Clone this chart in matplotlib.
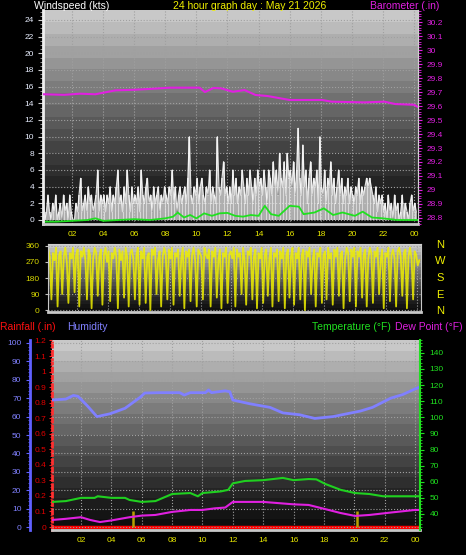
import numpy as np
import matplotlib
matplotlib.use('Agg')
import matplotlib.pyplot as plt
from matplotlib.ticker import MultipleLocator

plt.rcParams['font.family'] = ['Liberation Sans', 'DejaVu Sans']

# ---- data ----
hour_ticks = [2, 4, 6, 8, 10, 12, 14, 16, 18, 20, 22, 24]
hour_labels = ['02', '04', '06', '08', '10', '12', '14', '16', '18', '20', '22', '00']

# wind speed (kts), one sample every 6 minutes from 00:09
wind = [
    2, 0, 1, 3, 1, 0, 2, 1, 3, 0, 1, 2, 0, 3, 1, 2, 0, 3, 1, 0,
    0, 2, 1, 3, 5, 1, 2, 3, 1, 4, 2, 3, 1, 2, 3, 6, 1, 3, 2, 3,
    1, 3, 2, 4, 1, 3, 2, 4, 6, 2, 3, 1, 4, 2, 6, 3, 1, 4, 2, 3,
    2, 4, 1, 6, 3, 2, 4, 5, 2, 3, 1, 4, 2, 3, 4, 1, 3, 2, 4, 3,
    2, 4, 3, 6, 2, 4, 1, 3, 4, 2, 3, 4, 2, 5, 10, 3, 2, 4, 3, 5,
    2, 4, 5, 3, 2, 4, 3, 6, 2, 4, 3, 2, 10, 4, 3, 5, 7, 3, 4, 2,
    4, 2, 6, 3, 5, 2, 4, 3, 6, 4, 2, 5, 3, 6, 4, 2, 5, 3, 6, 4,
    5, 3, 6, 4, 2, 6, 5, 3, 7, 4, 6, 3, 8, 5, 4, 7, 3, 8, 5, 6,
    4, 7, 3, 6, 11, 5, 3, 9, 4, 6, 2, 5, 7, 3, 5, 4, 6, 2, 10, 4,
    3, 6, 2, 5, 4, 7, 3, 5, 2, 4, 6, 3, 5, 2, 4, 3, 5, 2, 4, 3,
    2, 4, 3, 5, 2, 4, 3, 4, 5, 4, 5, 4, 3, 2, 4, 1, 3, 2, 3, 1,
    2, 0, 3, 1, 2, 0, 3, 1, 2, 0, 1, 3, 0, 2, 1, 0, 2, 3, 1, 2,
    1]

# wind direction (deg), same samples
wdir = [
    340, 300, 60, 320, 280, 350, 20, 310, 330, 90, 300, 350, 270, 40, 320, 290, 350, 100, 310, 340,
    20, 330, 300, 350, 280, 60, 340, 310, 10, 290, 350, 320, 80, 300, 340, 30, 310, 350, 270, 330,
    50, 320, 290, 350, 300, 10, 340, 280, 330, 70, 350, 300, 20, 320, 340, 290, 60, 310, 350, 30,
    330, 290, 350, 40, 300, 320, 0, 340, 310, 350, 90, 280, 330, 20, 300, 350, 310, 60, 340, 290,
    350, 30, 320, 300, 340, 80, 290, 350, 10, 330, 300, 340, 50, 310, 350, 280, 20, 340, 320, 300,
    60, 350, 310, 290, 340, 20, 330, 300, 350, 70, 280, 340, 10, 320, 300, 350, 40, 310, 330, 290,
    350, 20, 340, 300, 320, 90, 350, 280, 30, 330, 310, 350, 60, 300, 340, 10, 320, 290, 350, 40,
    310, 340, 80, 290, 350, 20, 320, 300, 340, 50, 330, 290, 350, 10, 310, 340, 70, 300, 350, 30,
    320, 290, 350, 60, 310, 340, 0, 330, 300, 350, 90, 280, 340, 20, 320, 300, 350, 40, 310, 330,
    60, 350, 290, 320, 30, 340, 300, 350, 80, 310, 330, 10, 290, 350, 320, 50, 340, 300, 350, 20,
    330, 300, 350, 70, 310, 340, 20, 290, 350, 320, 40, 330, 300, 350, 90, 280, 340, 10, 320, 300,
    350, 50, 310, 340, 290, 20, 330, 350, 300, 80, 320, 340, 10, 300, 350, 290, 60, 330, 310, 250,
    280]

t_wind = 0.15 + 0.1 * np.arange(len(wind))

avg_h = [0.15, 1, 2, 3, 3.5, 4, 5, 6, 7, 8, 8.5, 8.8, 9.2, 9.6, 10, 10.5, 11, 11.5, 12,
         12.5, 13, 13.5, 14, 14.4, 14.8, 15.3, 16, 16.6, 16.9, 17.6, 18.2, 18.8, 19.4,
         20.2, 20.7, 21.3, 22, 22.9, 24.2]
avg_wind = [-0.2, -0.2, -0.1, 0, 0.2, -0.1, 0, 0.1, 0, 0.2, 0.4, 0.9, 0.3, 0.6, 0.2, 0.8,
            0.5, 0.8, 0.85, 0.5, 0.4, 0.6, 0.5, 1.7, 0.7, 0.5, 1.7, 1.6, 0.7, 0.9, 1.4,
            0.6, 0.9, 0.5, 1.0, 0.3, 0.2, 0.0, 0.0]

baro_h = [0.13, 1.5, 2.5, 3.5, 4.8, 6.0, 7.0, 8.3, 10.2, 10.55, 11.1, 11.6, 12.35, 13.1,
          13.8, 14.6, 16.0, 18.1, 18.7, 20.8, 22.1, 22.8, 24.0, 24.26]
baro = [29.684, 29.680, 29.688, 29.684, 29.712, 29.716, 29.722, 29.731, 29.731, 29.700,
        29.729, 29.726, 29.702, 29.714, 29.679, 29.671, 29.643, 29.643, 29.631, 29.626,
        29.631, 29.614, 29.609, 29.593]

hum_h = [0.1, 1.0, 1.5, 1.8, 2.4, 3.05, 3.9, 4.9, 5.9, 6.2, 7.2, 8.5, 8.8, 9.2, 10.2, 10.4,
         10.6, 11.5, 11.8, 12.0, 13.1, 14.45, 15.3, 16.4, 17.4, 18.6, 20.4, 21.2, 22.4,
         23.2, 24.0, 24.3]
humidity = [69, 69.5, 71.5, 71, 66, 60, 61.5, 64.5, 70.5, 72.8, 73, 73, 71.7, 73, 73, 74.5,
            73, 74, 73.5, 69, 67, 65, 62, 61, 59, 60, 63, 65, 70, 72, 75, 76]

temp_h = [0.1, 1.0, 2.0, 2.9, 3.1, 4.0, 4.9, 5.2, 6.0, 6.9, 8.0, 9.2, 9.7, 10.0, 11.2, 11.7,
          12.0, 12.8, 14.0, 15.3, 16.0, 17.0, 17.5, 18.1, 19.1, 20.05, 21.0, 21.9, 24.0, 24.3]
temp = [47.5, 48, 50, 50, 51, 50, 50, 48.7, 47.5, 48, 52.4, 53, 51, 53, 54, 55, 59, 60.5,
        61, 62.4, 61, 61.7, 61.5, 58.6, 55, 53, 52.4, 51, 51, 51]

dew_h = [0.1, 1.0, 2.0, 2.6, 3.25, 4.0, 5.2, 6.0, 6.9, 8.0, 9.2, 10.0, 10.8, 11.5, 12.0,
         14.0, 16.0, 17.0, 18.1, 19.1, 20.05, 21.0, 22.5, 24.0, 24.3]
dew = [36.3, 37, 38, 36.3, 35, 36, 38, 39, 39.4, 41.3, 42.5, 42.5, 43.5, 44, 47.5, 47.5, 46,
       45.6, 43, 40.6, 38.8, 39.4, 41, 42.5, 42.5]

rain_h = [0.09, 24.33]
rain_total = [0.0, 0.0]
rain_evt_h = [5.45, 20.2]
rain_evt = [0.1, 0.1]

# ---- layout ----
W, H = 466, 555
fig = plt.figure(figsize=(W / 100, H / 100), dpi=100, facecolor='black')


def rect(l, t, r, b):
    return [l / W, 1 - b / H, (r - l) / W, (b - t) / H]


def panel(box):
    bg = fig.add_axes(box, zorder=0)
    t = np.linspace(0, 1, 18)
    g = (14 + 186 * (1 - t) ** 1.2) / 255
    bg.imshow(g.reshape(-1, 1), cmap='gray', vmin=0, vmax=1, aspect='auto',
              extent=[0, 1, 0, 1], interpolation='nearest')
    bg.set_axis_off()
    ax = fig.add_axes(box, zorder=1)
    ax.set_facecolor('none')
    ax.set_xticks(hour_ticks)
    ax.grid(True, axis='x', color='#a0a0a0', ls=':', lw=0.8)
    ax.tick_params(axis='x', length=0, pad=5, labelsize=6, labelcolor='#e8e800')
    ax.spines['top'].set_visible(False)
    ax.spines['bottom'].set_color('#c8c8c8')
    ax.spines['bottom'].set_linewidth(2)
    return ax


def yellow_hours(ax):
    ax.set_xticklabels(hour_labels)


# top panel: wind speed + barometer
ax_w = panel(rect(43, 10, 418, 224))
ax_w.set_xlim(0.13, 24.26)
ax_w.set_ylim(-0.48, 25.2)
ax_w.vlines(t_wind, 0, wind, color='#e8e8e8', lw=1.4, alpha=0.75)
ax_w.plot(t_wind, wind, color='white', lw=0.9, alpha=0.85)
ax_w.plot(avg_h, avg_wind, color='#20e020', lw=1.3)
yellow_hours(ax_w)
ax_w.yaxis.set_minor_locator(MultipleLocator(0.5))
ax_w.set_yticks(range(0, 25, 2))
ax_w.grid(True, axis='y', color='#a0a0a0', ls=':', lw=0.8)
ax_w.tick_params(axis='y', which='major', length=3.5, width=0.8, color='#d0d0d0',
                 pad=3, labelsize=6, labelcolor='#e8eeff')
ax_w.tick_params(axis='y', which='minor', length=2, width=0.6, color='#b0b0b0')
ax_w.spines['left'].set_color('#f0f0f0')
ax_w.spines['left'].set_linewidth(2)
ax_w.spines['right'].set_color('#c8c8c8')

ax_b = ax_w.twinx()
ax_b.set_zorder(2)
ax_b.set_ylim(28.757, 30.286)
ax_b.plot(baro_h, baro, color='#e020e0', lw=1.5)
bt = np.round(np.arange(28.8, 30.25, 0.1), 1)
ax_b.set_yticks(bt)
ax_b.set_yticklabels([f'{v:g}' for v in bt])
ax_b.yaxis.set_minor_locator(MultipleLocator(0.02))
ax_b.tick_params(axis='y', which='major', length=3, color='#e020e0', pad=3,
                 labelsize=6, labelcolor='#e020e0')
ax_b.tick_params(axis='y', which='minor', length=2, color='#e020e0')
for s in ['left', 'top', 'bottom']:
    ax_b.spines[s].set_visible(False)
ax_b.spines['right'].set_color('#d0d0d0')

# wind direction panel
ax_d = panel(rect(48, 244, 421, 312))
ax_d.set_xlim(0.13, 24.26)
ax_d.set_ylim(-11, 371)
ax_d.plot(t_wind, wdir, color='#f0f000', lw=1.3, alpha=0.85)
ax_d.set_xticklabels([])
ax_d.set_yticks([0, 90, 180, 270, 360])
ax_d.grid(True, axis='y', color='#a0a0a0', ls=':', lw=0.8)
ax_d.tick_params(axis='y', length=2, color='#c0c0c0', pad=4, labelsize=6,
                 labelcolor='#d8d800')
ax_d.spines['left'].set_color('#c8c8c8')
ax_d.spines['right'].set_color('#c8c8c8')
ax_d.spines['top'].set_visible(True)
ax_d.spines['top'].set_color('#d0d0d0')
for lab, y in zip(['N', 'W', 'S', 'E', 'N'], [245, 261, 278, 295, 311]):
    fig.text(440 / W, 1 - y / H, lab, color='#f0f000', fontsize=8,
             ha='center', va='center')

# bottom panel: rainfall, humidity, temperature, dew point
ax_r = panel(rect(52, 340, 420, 530))
ax_r.set_xlim(0.09, 24.33)
ax_r.set_ylim(-0.019, 1.203)
ax_r.plot(rain_h, rain_total, color='#ff0000', lw=2.5)
ax_r.vlines(rain_evt_h, 0, rain_evt, color='#b8a000', lw=1.8)
yellow_hours(ax_r)
rt = np.round(np.arange(0, 1.25, 0.1), 1)
ax_r.set_yticks(rt)
ax_r.set_yticklabels([f'{v:g}' for v in rt])
ax_r.yaxis.set_minor_locator(MultipleLocator(0.02))
ax_r.tick_params(axis='y', which='major', length=2, color='#ff2020', pad=2,
                 labelsize=6, labelcolor='#e00000')
ax_r.tick_params(axis='y', which='minor', length=1.5, color='#ff2020')
ax_r.spines['left'].set_color('#ff3030')
ax_r.spines['left'].set_linewidth(2)
ax_r.spines['left'].set_linestyle((0, (1.5, 1.5)))
ax_r.spines['right'].set_visible(False)

ax_hum = ax_r.twinx()
ax_hum.set_zorder(2)
ax_hum.set_ylim(-1.6, 101.6)
ax_hum.plot(hum_h, humidity, color='#8080ff', lw=2)
ax_hum.yaxis.tick_left()
ax_hum.yaxis.set_label_position('left')
ax_hum.spines['left'].set_visible(True)
ax_hum.spines['left'].set_position(('outward', 16))
ax_hum.spines['left'].set_color('#6060ff')
ax_hum.spines['left'].set_linewidth(2)
for s in ['right', 'top', 'bottom']:
    ax_hum.spines[s].set_visible(False)
ax_hum.set_yticks(range(0, 101, 10))
ax_hum.yaxis.set_minor_locator(MultipleLocator(2))
ax_hum.grid(True, axis='y', color='#a0a0a0', ls=':', lw=0.8)
ax_hum.tick_params(axis='y', which='major', length=3, color='#6060ff', pad=3,
                   labelsize=6, labelcolor='#8080ff')
ax_hum.tick_params(axis='y', which='minor', length=1.5, color='#6060ff')

ax_t = ax_r.twinx()
ax_t.set_zorder(3)
ax_t.set_ylim(30.06, 148)
ax_t.plot(temp_h, temp, color='#20d020', lw=1.5)
ax_t.plot(dew_h, dew, color='#e020e0', lw=1.5)
ax_t.set_yticks(range(40, 141, 10))
ax_t.yaxis.set_minor_locator(MultipleLocator(2))
ax_t.tick_params(axis='y', which='major', length=3, color='#20e020', pad=4,
                 labelsize=6, labelcolor='#20e020')
ax_t.tick_params(axis='y', which='minor', length=1.5, color='#20e020')
for s in ['left', 'top', 'bottom']:
    ax_t.spines[s].set_visible(False)
ax_t.spines['right'].set_color('#20e020')
ax_t.spines['right'].set_linewidth(1.5)

# header texts
def head(x, y, s, c, ha='left'):
    fig.text(x / W, 1 - y / H, s, color=c, fontsize=7.5, ha=ha, va='center')

head(34, 6, 'Windspeed (kts)', 'white')
head(250, 6, '24 hour graph day : May 21 2026', '#f0f000', ha='center')
head(439, 6, 'Barometer (.in)', '#e020e0', ha='right')
head(0, 327, 'Rainfall (.in)', '#ff1010')
head(67, 327, 'Humidity', '#8080ff')
head(391, 327, 'Temperature (\u00b0F)', '#20e020', ha='right')
head(463, 327, 'Dew Point (\u00b0F)', '#e020e0', ha='right')

fig.savefig('out.png', dpi=100, facecolor='black')
